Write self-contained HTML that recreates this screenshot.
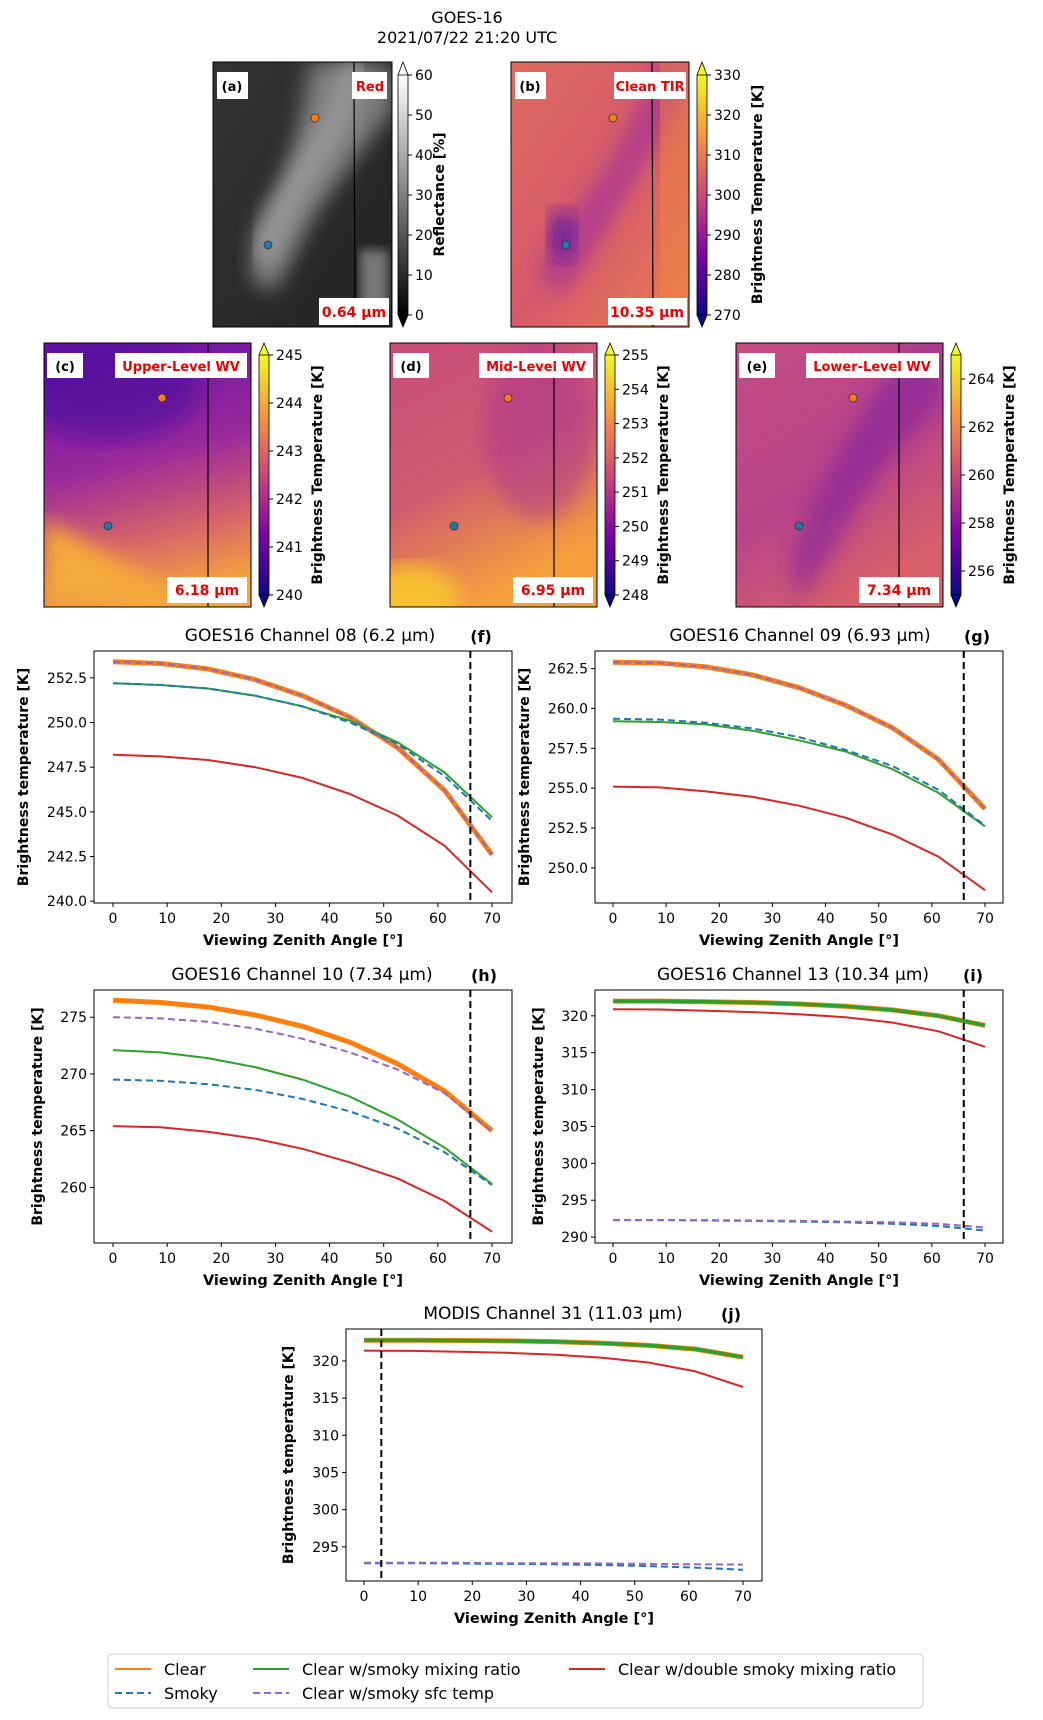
<!DOCTYPE html>
<html><head><meta charset="utf-8"><style>
html,body{margin:0;padding:0;background:#fff;}
svg{display:block;font-family:"DejaVu Sans","Liberation Sans",sans-serif;}
</style></head><body>
<svg id="fig" width="1043" height="1720" viewBox="0 0 1043 1720" xmlns="http://www.w3.org/2000/svg">
<defs>
<linearGradient id="gray" x1="0" y1="1" x2="0" y2="0"><stop offset="0" stop-color="#000"/><stop offset="1" stop-color="#fff"/></linearGradient>
<linearGradient id="plasma" x1="0" y1="1" x2="0" y2="0"><stop offset="0" stop-color="#0d0887"/><stop offset="0.25" stop-color="#7e03a8"/><stop offset="0.5" stop-color="#cc4778"/><stop offset="0.75" stop-color="#f89540"/><stop offset="1" stop-color="#f0f921"/></linearGradient>
<linearGradient id="bgA" x1="0" y1="0" x2="1" y2="1"><stop offset="0" stop-color="#343434"/><stop offset="1" stop-color="#222"/></linearGradient>
<linearGradient id="bgB" x1="0" y1="0" x2="1" y2="1"><stop offset="0" stop-color="#e06a5e"/><stop offset="0.5" stop-color="#d65a6c"/><stop offset="1" stop-color="#ec7b50"/></linearGradient>
<linearGradient id="bgC" x1="0.3" y1="0" x2="0.5" y2="1"><stop offset="0" stop-color="#6a12a4"/><stop offset="0.45" stop-color="#9a2a9c"/><stop offset="0.75" stop-color="#d76468"/><stop offset="1" stop-color="#f6a83c"/></linearGradient>
<linearGradient id="bgD" x1="0" y1="0" x2="0.4" y2="1"><stop offset="0" stop-color="#c84d7a"/><stop offset="0.55" stop-color="#d05a70"/><stop offset="1" stop-color="#f5a03c"/></linearGradient>
<linearGradient id="bgE" x1="0" y1="0" x2="0.5" y2="1"><stop offset="0" stop-color="#c44b82"/><stop offset="0.6" stop-color="#b8448a"/><stop offset="1" stop-color="#d8606a"/></linearGradient>
<filter id="blur8"><feGaussianBlur stdDeviation="10"/></filter>
<filter id="blur5"><feGaussianBlur stdDeviation="5"/></filter>
<clipPath id="cpA"><rect x="213" y="62" width="179" height="265"/></clipPath>
<clipPath id="cpB"><rect x="511" y="62" width="178" height="265"/></clipPath>
<clipPath id="cpC"><rect x="44" y="343" width="207" height="264"/></clipPath>
<clipPath id="cpD"><rect x="390" y="343" width="207" height="264"/></clipPath>
<clipPath id="cpE"><rect x="736" y="343" width="207" height="264"/></clipPath>
</defs>
<text x="467" y="23" text-anchor="middle" font-size="16">GOES-16</text>
<text x="467" y="43" text-anchor="middle" font-size="16">2021/07/22 21:20 UTC</text>

<g>
<g clip-path="url(#cpA)">
<rect x="213" y="62" width="179" height="265" fill="url(#bgA)"/>
<path d="M255,285 C245,250 255,225 275,195 C290,170 300,130 310,62 L370,62 L392,70 L392,110 C365,145 340,180 318,210 C300,240 290,265 275,290 Z" fill="#7e7e7e" filter="url(#blur8)"/>
<path d="M262,260 C275,220 295,185 325,140 C340,115 350,90 355,62" stroke="#9a9a9a" stroke-width="22" fill="none" filter="url(#blur8)"/>
<rect x="360" y="250" width="28" height="60" fill="#777" filter="url(#blur5)"/>
</g>
<line x1="354" y1="62" x2="355" y2="327" stroke="#000" stroke-width="1.2"/>
<rect x="213" y="62" width="179" height="265" fill="none" stroke="#000" stroke-width="1"/>
<circle cx="315" cy="118" r="4" fill="#ff7f0e" stroke="#333" stroke-width="0.8"/>
<circle cx="268" cy="245" r="4" fill="#1f77b4" stroke="#333" stroke-width="0.8"/>
<rect x="217" y="72" width="31" height="27" fill="#fff"/><text x="232" y="91" text-anchor="middle" font-size="13" font-weight="bold">(a)</text>
<rect x="352" y="72" width="35" height="27" fill="#fff"/><text x="370" y="91" text-anchor="middle" font-size="13" font-weight="bold" fill="#e00">Red</text>
<rect x="319" y="298" width="70" height="27" fill="#fff"/><text x="354" y="317" text-anchor="middle" font-size="14" font-weight="bold" fill="#e00">0.64 µm</text>
</g>

<g>
<g clip-path="url(#cpB)">
<rect x="511" y="62" width="178" height="265" fill="url(#bgB)"/>
<path d="M540,275 C555,235 585,200 610,165 C625,135 645,100 655,62 L690,62 L689,85 C668,130 640,170 618,210 C600,240 585,270 560,295 Z" fill="#a43398" filter="url(#blur8)" opacity="0.7"/>
<ellipse cx="562" cy="235" rx="14" ry="26" fill="#5a12a2" filter="url(#blur8)" opacity="0.8"/>
<rect x="660" y="62" width="29" height="265" fill="#f0883f" opacity="0.45"/>
</g>
<line x1="652" y1="62" x2="653" y2="327" stroke="#000" stroke-width="1.2"/>
<rect x="511" y="62" width="178" height="265" fill="none" stroke="#000" stroke-width="1"/>
<circle cx="613" cy="118" r="4" fill="#ff7f0e" stroke="#333" stroke-width="0.8"/>
<circle cx="566" cy="245" r="4" fill="#1f77b4" stroke="#333" stroke-width="0.8"/>
<rect x="515" y="72" width="31" height="27" fill="#fff"/><text x="530" y="91" text-anchor="middle" font-size="13" font-weight="bold">(b)</text>
<rect x="614" y="72" width="72" height="27" fill="#fff"/><text x="650" y="91" text-anchor="middle" font-size="13" font-weight="bold" fill="#e00">Clean TIR</text>
<rect x="608" y="298" width="79" height="27" fill="#fff"/><text x="647" y="317" text-anchor="middle" font-size="14" font-weight="bold" fill="#e00">10.35 µm</text>
</g>

<g>
<g clip-path="url(#cpC)"><rect x="44" y="343" width="207" height="264" fill="url(#bgC)"/>
<ellipse cx="110" cy="390" rx="90" ry="50" fill="#4a0c9c" filter="url(#blur8)" opacity="0.6"/>
<path d="M44,520 L120,560 L200,607 L44,607 Z" fill="#f4a93a" filter="url(#blur8)"/></g>
<line x1="208" y1="343" x2="208" y2="607" stroke="#000" stroke-width="1.2"/>
<rect x="44" y="343" width="207" height="264" fill="none" stroke="#000"/>
<circle cx="162" cy="398" r="4" fill="#ff7f0e" stroke="#333" stroke-width="0.8"/>
<circle cx="108" cy="526" r="4" fill="#1f77b4" stroke="#333" stroke-width="0.8"/>
<rect x="47" y="353" width="36" height="25" fill="#fff"/><text x="65" y="371" text-anchor="middle" font-size="13" font-weight="bold">(c)</text>
<rect x="115" y="353" width="132" height="25" fill="#fff"/><text x="181" y="371" text-anchor="middle" font-size="13" font-weight="bold" fill="#e00">Upper-Level WV</text>
<rect x="167" y="577" width="80" height="26" fill="#fff"/><text x="207" y="595" text-anchor="middle" font-size="14" font-weight="bold" fill="#e00">6.18 µm</text>
</g>
<g>
<g clip-path="url(#cpD)"><rect x="390" y="343" width="207" height="264" fill="url(#bgD)"/>
<ellipse cx="540" cy="430" rx="55" ry="90" fill="#a83094" filter="url(#blur8)" opacity="0.5"/>
<ellipse cx="410" cy="600" rx="50" ry="35" fill="#f8c030" filter="url(#blur8)"/></g>
<line x1="554" y1="343" x2="554" y2="607" stroke="#000" stroke-width="1.2"/>
<rect x="390" y="343" width="207" height="264" fill="none" stroke="#000"/>
<circle cx="508" cy="398" r="4" fill="#ff7f0e" stroke="#333" stroke-width="0.8"/>
<circle cx="454" cy="526" r="4" fill="#1f77b4" stroke="#333" stroke-width="0.8"/>
<rect x="393" y="353" width="36" height="25" fill="#fff"/><text x="411" y="371" text-anchor="middle" font-size="13" font-weight="bold">(d)</text>
<rect x="479" y="353" width="114" height="25" fill="#fff"/><text x="536" y="371" text-anchor="middle" font-size="13" font-weight="bold" fill="#e00">Mid-Level WV</text>
<rect x="513" y="577" width="80" height="26" fill="#fff"/><text x="553" y="595" text-anchor="middle" font-size="14" font-weight="bold" fill="#e00">6.95 µm</text>
</g>
<g>
<g clip-path="url(#cpE)"><rect x="736" y="343" width="207" height="264" fill="url(#bgE)"/>
<path d="M790,560 C810,500 840,450 870,400 C890,370 910,350 930,343 L943,343 L943,400 C910,430 880,470 850,520 C830,560 810,590 795,600 Z" fill="#7a1ea0" filter="url(#blur8)" opacity="0.55"/></g>
<line x1="899" y1="343" x2="899" y2="607" stroke="#000" stroke-width="1.2"/>
<rect x="736" y="343" width="207" height="264" fill="none" stroke="#000"/>
<circle cx="853" cy="398" r="4" fill="#ff7f0e" stroke="#333" stroke-width="0.8"/>
<circle cx="799" cy="526" r="4" fill="#1f77b4" stroke="#333" stroke-width="0.8"/>
<rect x="739" y="353" width="36" height="25" fill="#fff"/><text x="757" y="371" text-anchor="middle" font-size="13" font-weight="bold">(e)</text>
<rect x="806" y="353" width="133" height="25" fill="#fff"/><text x="872" y="371" text-anchor="middle" font-size="13" font-weight="bold" fill="#e00">Lower-Level WV</text>
<rect x="859" y="577" width="80" height="26" fill="#fff"/><text x="899" y="595" text-anchor="middle" font-size="14" font-weight="bold" fill="#e00">7.34 µm</text>
</g>
<g id="cbs"></g>
<g id="plots"></g>
<g id="legend"></g>
</svg>
<script>
const X = [0, 8.75, 17.5, 26.25, 35, 43.75, 52.5, 61.25, 70];
const f_clear  = [253.4, 253.3, 253.0, 252.4, 251.5, 250.3, 248.6, 246.2, 242.6];
const f_smoky  = [252.2, 252.1, 251.9, 251.5, 250.9, 250.0, 248.8, 247.0, 244.5];
const f_mix    = [252.2, 252.1, 251.9, 251.5, 250.9, 250.1, 248.9, 247.2, 244.7];
const f_double = [248.2, 248.1, 247.9, 247.5, 246.9, 246.0, 244.8, 243.1, 240.5];
const f_sfc    = [253.4, 253.3, 253.0, 252.4, 251.5, 250.3, 248.6, 246.2, 242.6];
const g_clear  = [262.9, 262.85, 262.6, 262.1, 261.3, 260.2, 258.8, 256.8, 253.7];
const g_smoky  = [259.35, 259.3, 259.1, 258.75, 258.2, 257.4, 256.4, 254.9, 252.65];
const g_mix    = [259.2, 259.15, 259.0, 258.6, 258.0, 257.3, 256.2, 254.7, 252.6];
const g_double = [255.1, 255.05, 254.8, 254.45, 253.9, 253.15, 252.1, 250.7, 248.6];
const g_sfc    = [262.9, 262.85, 262.6, 262.1, 261.3, 260.2, 258.8, 256.8, 253.7];
const h_clear  = [276.5, 276.3, 275.9, 275.2, 274.2, 272.8, 270.9, 268.5, 265.0];
const h_smoky  = [269.5, 269.4, 269.1, 268.6, 267.8, 266.7, 265.2, 263.1, 260.2];
const h_mix    = [272.1, 271.9, 271.4, 270.6, 269.5, 268.0, 266.0, 263.5, 260.3];
const h_double = [265.4, 265.3, 264.9, 264.3, 263.4, 262.2, 260.8, 258.8, 256.1];
const h_sfc    = [275.0, 274.9, 274.6, 274.0, 273.1, 271.9, 270.4, 268.3, 264.9];
const i_clear  = [322.0, 322.0, 321.9, 321.8, 321.6, 321.3, 320.8, 320.0, 318.7];
const i_smoky  = [292.3, 292.3, 292.25, 292.2, 292.1, 292.0, 291.8, 291.5, 290.9];
const i_mix    = [322.0, 322.0, 321.9, 321.8, 321.6, 321.3, 320.8, 320.0, 318.7];
const i_double = [320.9, 320.85, 320.7, 320.5, 320.2, 319.8, 319.1, 317.9, 315.8];
const i_sfc    = [292.3, 292.3, 292.3, 292.25, 292.2, 292.1, 292.0, 291.8, 291.3];
const j_clear  = [322.8, 322.8, 322.75, 322.7, 322.6, 322.4, 322.1, 321.6, 320.5];
const j_smoky  = [292.8, 292.8, 292.75, 292.7, 292.65, 292.55, 292.4, 292.2, 291.9];
const j_mix    = [322.8, 322.8, 322.75, 322.7, 322.6, 322.4, 322.1, 321.6, 320.5];
const j_double = [321.4, 321.35, 321.25, 321.1, 320.85, 320.45, 319.8, 318.6, 316.5];
const j_sfc    = [292.85, 292.85, 292.85, 292.8, 292.8, 292.75, 292.7, 292.65, 292.6];
const xTicks = [0, 10, 20, 30, 40, 50, 60, 70];
const f_yTicks = [240, 242.5, 245, 247.5, 250, 252.5];
const g_yTicks = [250, 252.5, 255, 257.5, 260, 262.5];
const h_yTicks = [260, 265, 270, 275];
const i_yTicks = [290, 295, 300, 305, 310, 315, 320];
const j_yTicks = [295, 300, 305, 310, 315, 320];
const f_vline = 66, g_vline = 66, h_vline = 66, i_vline = 66, j_vline = 3.2;
const cbA_ticks = [0, 10, 20, 30, 40, 50, 60];
const cbB_ticks = [270, 280, 290, 300, 310, 320, 330];
const cbC_ticks = [240, 241, 242, 243, 244, 245];
const cbD_ticks = [248, 249, 250, 251, 252, 253, 254, 255];
const cbE_ticks = [256, 258, 260, 262, 264];

const NS = "http://www.w3.org/2000/svg";
function el(tag, attrs, parent, txt) {
  const e = document.createElementNS(NS, tag);
  for (const k in attrs) e.setAttribute(k, attrs[k]);
  if (txt !== undefined) e.textContent = txt;
  parent.appendChild(e);
  return e;
}
const COL = {clear:"#ff7f0e", smoky:"#1f77b4", mix:"#2ca02c", dbl:"#d62728", sfc:"#9467bd"};

const cbs = document.getElementById("cbs");
function colorbar(key, x, w, top, bot, atop, abot, vmin, vmax, ticks, grad, topCol, botCol, label, labelX, dec) {
  const g = el("g", {}, cbs);
  
  
  el("rect", {x:x, y:top, width:w, height:bot-top, fill:"url(#"+grad+")"}, g);
  el("polygon", {points:`${x},${top} ${x+w/2},${atop} ${x+w},${top}`, fill:topCol, stroke:"#000", "stroke-width":0.8}, g);
  el("polygon", {points:`${x},${bot} ${x+w/2},${abot} ${x+w},${bot}`, fill:botCol, stroke:"#000", "stroke-width":0.8}, g);
  el("path", {d:`M${x},${top} L${x},${bot} M${x+w},${top} L${x+w},${bot}`, stroke:"#000", "stroke-width":0.8, fill:"none"}, g);
  ticks.forEach(v => {
    const y = bot - (v - vmin) / (vmax - vmin) * (bot - top);
    el("line", {x1:x+w, x2:x+w+4, y1:y, y2:y, stroke:"#000"}, g);
    const t = el("text", {x:x+w+7, y:y+5, "font-size":14}, g, v.toFixed(dec));
    
    
  });
  const cy = (atop + abot) / 2;
  const lt = el("text", {x:labelX, y:cy, "font-size":14, "font-weight":"bold", "text-anchor":"middle", transform:`rotate(-90 ${labelX} ${cy})`}, g, label);
  
  
}
colorbar("a", 398, 10, 75, 315, 62, 327, 0, 60, cbA_ticks, "gray", "#fff", "#000", "Reflectance [%]", 444, 0);
colorbar("b", 697, 10, 75, 315, 62, 327, 270, 330, cbB_ticks, "plasma", "#f0f921", "#0d0887", "Brightness Temperature [K]", 762, 0);
colorbar("c", 259, 10, 355, 595, 343, 607, 240, 245, cbC_ticks, "plasma", "#f0f921", "#0d0887", "Brightness Temperature [K]", 322, 0);
colorbar("d", 605, 10, 355, 595, 343, 607, 248, 255, cbD_ticks, "plasma", "#f0f921", "#0d0887", "Brightness Temperature [K]", 668, 0);
colorbar("e", 951, 10, 355, 595, 343, 607, 255, 265, cbE_ticks, "plasma", "#f0f921", "#0d0887", "Brightness Temperature [K]", 1014, 0);

const plots = document.getElementById("plots");
function panel(key, L, R, T, B, x0px, x70px, ymin, ymax, yTicks, dec, title, titleX, tag, tagX, ylabX, vline, series) {
  const g = el("g", {}, plots);
  
  
  const xs = v => x0px + v / 70 * (x70px - x0px);
  const ys = v => B - (v - ymin) / (ymax - ymin) * (B - T);
  const cid = "clip" + key;
  const cp = el("clipPath", {id:cid}, g);
  el("rect", {x:L, y:T, width:R-L, height:B-T}, cp);
  const tt = el("text", {x:titleX, y:T-10, "font-size":17, "text-anchor":"middle"}, g, title);
  
  
  const tg = el("text", {x:tagX, y:T-9, "font-size":16, "font-weight":"bold", "text-anchor":"middle"}, g, tag);
  
  
  const lg = el("g", {"clip-path":`url(#${cid})`}, g);
  series.forEach(s => {
    const d = X.map((xv, i) => (i ? "L" : "M") + xs(xv).toFixed(1) + "," + ys(s.v[i]).toFixed(1)).join(" ");
    const p = el("path", {d:d, fill:"none", stroke:s.c, "stroke-width":s.w, "stroke-linejoin":"round", "stroke-dasharray":s.dash || "none"}, lg);
    
    
  });
  const vl = el("line", {x1:xs(vline), x2:xs(vline), y1:T, y2:B, stroke:"#000", "stroke-width":2, "stroke-dasharray":"7,4"}, g);
  
  
  el("rect", {x:L, y:T, width:R-L, height:B-T, fill:"none", stroke:"#000", "stroke-width":1}, g);
  xTicks.forEach(v => {
    el("line", {x1:xs(v), x2:xs(v), y1:B, y2:B+4, stroke:"#000"}, g);
    const t = el("text", {x:xs(v), y:B+20, "font-size":14, "text-anchor":"middle"}, g, String(v));
    
    
  });
  yTicks.forEach(v => {
    el("line", {x1:L-4, x2:L, y1:ys(v), y2:ys(v), stroke:"#000"}, g);
    const t = el("text", {x:L-7, y:ys(v)+5, "font-size":14, "text-anchor":"end"}, g, v.toFixed(dec));
    
    
  });
  const xl = el("text", {x:(L+R)/2, y:B+42, "font-size":14.5, "font-weight":"bold", "text-anchor":"middle"}, g, "Viewing Zenith Angle [°]");
  
  
  const cy = (T + B) / 2;
  const yl = el("text", {x:ylabX, y:cy, "font-size":14, "font-weight":"bold", "text-anchor":"middle", transform:`rotate(-90 ${ylabX} ${cy})`}, g, "Brightness temperature [K]");
  
  
}
function S(clear, smoky, mix, dbl, sfc, thickMix) {
  return [
    {n:"clear", v:clear, c:COL.clear, w:5},
    {n:"clear-smoky-mixing-ratio", v:mix, c:COL.mix, w:thickMix ? 3.5 : 2},
    {n:"smoky", v:smoky, c:COL.smoky, w:2, dash:"7,4"},
    {n:"clear-double-smoky-mixing-ratio", v:dbl, c:COL.dbl, w:2},
    {n:"clear-smoky-sfc-temp", v:sfc, c:COL.sfc, w:2, dash:"7,4"}
  ];
}
panel("f", 94, 512, 651, 903, 113, 492, 239.9, 254.0, f_yTicks, 1, "GOES16 Channel 08 (6.2 µm)", 310, "(f)", 481, 28, f_vline, S(f_clear, f_smoky, f_mix, f_double, f_sfc, false));
panel("g", 595, 1003, 651, 903, 613, 985, 247.8, 263.6, g_yTicks, 1, "GOES16 Channel 09 (6.93 µm)", 800, "(g)", 977, 529, g_vline, S(g_clear, g_smoky, g_mix, g_double, g_sfc, false));
panel("h", 94, 512, 990, 1243, 113, 492, 255.1, 277.4, h_yTicks, 0, "GOES16 Channel 10 (7.34 µm)", 302, "(h)", 484, 42, h_vline, S(h_clear, h_smoky, h_mix, h_double, h_sfc, false));
panel("i", 595, 1003, 990, 1243, 613, 985, 289.2, 323.5, i_yTicks, 0, "GOES16 Channel 13 (10.34 µm)", 793, "(i)", 973, 543, i_vline, S(i_clear, i_smoky, i_mix, i_double, i_sfc, true));
panel("j", 346, 762, 1329, 1581, 364, 743, 290.4, 324.3, j_yTicks, 0, "MODIS Channel 31 (11.03 µm)", 553, "(j)", 731, 293, j_vline, S(j_clear, j_smoky, j_mix, j_double, j_sfc, true));

const lgd = document.getElementById("legend");
el("rect", {x:108, y:1654, width:815, height:54, rx:4, fill:"#fff", stroke:"#ccc", "stroke-width":1}, lgd);
const entries = [
  {t:"Clear", c:COL.clear, dash:"none", x:115, y:1669},
  {t:"Smoky", c:COL.smoky, dash:"7,4", x:115, y:1693},
  {t:"Clear w/smoky mixing ratio", c:COL.mix, dash:"none", x:253, y:1669},
  {t:"Clear w/smoky sfc temp", c:COL.sfc, dash:"7,4", x:253, y:1693},
  {t:"Clear w/double smoky mixing ratio", c:COL.dbl, dash:"none", x:569, y:1669}
];
entries.forEach(e => {
  const g = el("g", {}, lgd);
  
  
  el("line", {x1:e.x, x2:e.x+36, y1:e.y, y2:e.y, stroke:e.c, "stroke-width":2, "stroke-dasharray":e.dash}, g);
  el("text", {x:e.x+49, y:e.y+6, "font-size":16}, g, e.t);
});
</script>
</body></html>
